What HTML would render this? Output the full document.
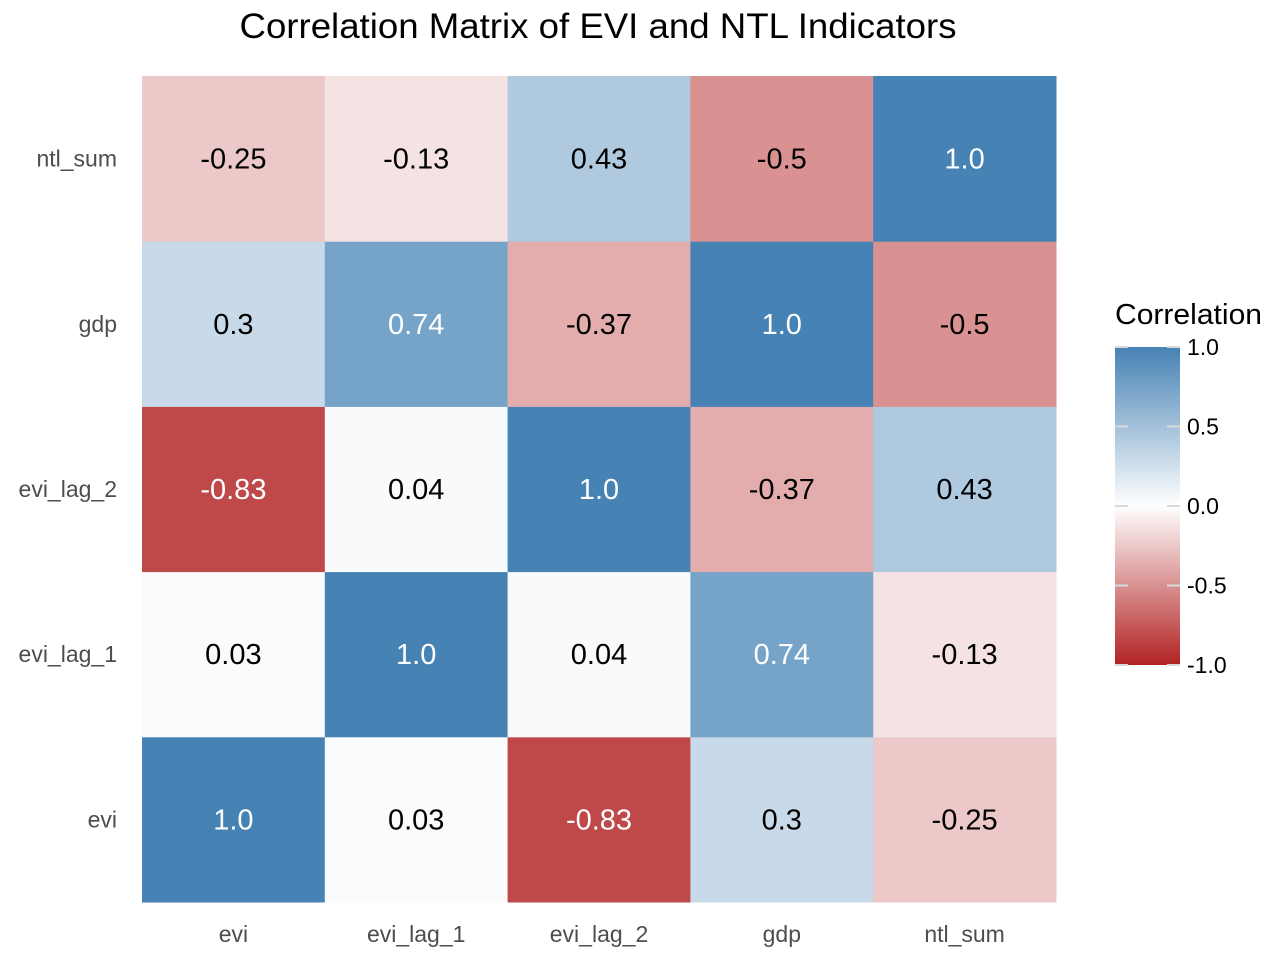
<!DOCTYPE html>
<html><head><meta charset="utf-8"><style>
body{margin:0;background:#fff;}
svg{display:block;font-family:"Liberation Sans",Arial,sans-serif;}
</style></head><body>
<svg id="chart" width="1280" height="960">
<defs>
<linearGradient id="lg" x1="0" y1="1" x2="0" y2="0">
<stop offset="0" stop-color="#B22222"/><stop offset="0.5" stop-color="#FFFFFF"/><stop offset="1" stop-color="#4682B4"/>
</linearGradient>
</defs>
<text x="598" y="38" font-size="35" text-anchor="middle" textLength="717" lengthAdjust="spacingAndGlyphs" fill="#000">Correlation Matrix of EVI and NTL Indicators</text>
<g id="cells"></g>
<g id="xlabels"></g>
<g id="ylabels"></g>
<g id="legend">
<text x="1115" y="324" font-size="29" textLength="147" lengthAdjust="spacingAndGlyphs" fill="#000">Correlation</text>
<rect x="1115" y="347" width="65" height="318" fill="url(#lg)"/>
</g>
</svg>
<script>
const vars = ["evi","evi_lag_1","evi_lag_2","gdp","ntl_sum"];
const rowEvi = [1, 0.03, -0.83, 0.3, -0.25];
const rowLag1 = [0.03, 1, 0.04, 0.74, -0.13];
const rowLag2 = [-0.83, 0.04, 1, -0.37, 0.43];
const rowGdp = [0.3, 0.74, -0.37, 1, -0.5];
const rowNtl = [-0.25, -0.13, 0.43, -0.5, 1];
const legendTicks = [-1, -0.5, 0, 0.5, 1];
const legendTickLabels = ["-1.0","-0.5","0.0","0.5","1.0"];

const matrix = [rowEvi,rowLag1,rowLag2,rowGdp,rowNtl];
const NS="http://www.w3.org/2000/svg";
const x0=142,x1=1056,y0=76,y1=902;
const cw=(x1-x0)/vars.length, ch=(y1-y0)/vars.length;
function xPos(i){return x0+i*cw;}
function yPos(j){return y1-(j+1)*ch;}
function color(v){
  const lo=[178,34,34],hi=[70,130,180],w=[255,255,255];
  const t=Math.min(1,Math.abs(v)); const c=v<0?lo:hi;
  return "rgb("+w.map((x,k)=>Math.round(x+(c[k]-x)*t)).join(",")+")";
}
function fmt(v){return Number.isInteger(v)?v.toFixed(1):String(v);}
function mk(tag,attrs,parent){const e=document.createElementNS(NS,tag);for(const k in attrs)e.setAttribute(k,attrs[k]);parent.appendChild(e);return e;}
const cells=document.getElementById("cells");
for(let j=0;j<vars.length;j++){
  for(let i=0;i<vars.length;i++){
    const v=matrix[j][i];
    const r=mk("rect",{x:xPos(i),y:yPos(j),width:cw+0.5,height:ch+0.5,fill:color(v)},cells);
    
    
    const t=mk("text",{x:xPos(i)+cw/2,y:yPos(j)+ch/2+10,"font-size":29,"text-anchor":"middle",fill:Math.abs(v)>0.6?"#fff":"#000"},cells);
    t.textContent=fmt(v);
    
    
  }
}
const xl=document.getElementById("xlabels"), yl=document.getElementById("ylabels");
vars.forEach((n,i)=>{
  const t=mk("text",{x:xPos(i)+cw/2,y:942,"font-size":23,"text-anchor":"middle",fill:"#4d4d4d"},xl);
  t.textContent=n;
  
  
  const u=mk("text",{x:117,y:yPos(i)+ch/2+8,"font-size":23,"text-anchor":"end",fill:"#4d4d4d"},yl);
  u.textContent=n;
  
  
});
const lg=document.getElementById("legend");
function ly(v){return 665-(v+1)/2*318;}
legendTicks.forEach((v,k)=>{
  const y=ly(v);
  mk("line",{x1:1115,x2:1128,y1:y,y2:y,stroke:"#d9d9d9","stroke-width":2},lg);
  mk("line",{x1:1167,x2:1180,y1:y,y2:y,stroke:"#d9d9d9","stroke-width":2},lg);
  const t=mk("text",{x:1187,y:y+8,"font-size":23,fill:"#000"},lg);
  t.textContent=legendTickLabels[k];
  
  
});
</script>
</body></html>
